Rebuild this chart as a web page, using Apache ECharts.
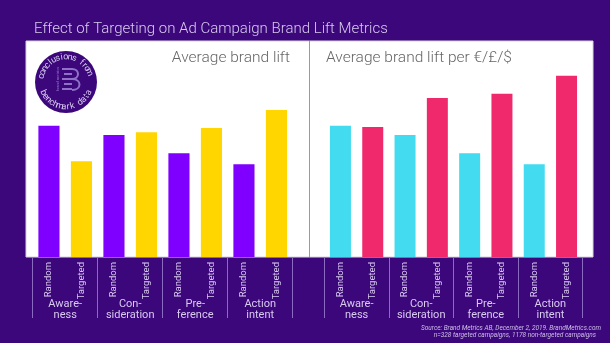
<!DOCTYPE html>
<html>
<head>
<meta charset="utf-8">
<script src="https://cdn.jsdelivr.net/npm/echarts@6/dist/echarts.min.js"></script>
<style>
  html, body { margin: 0; padding: 0; background: #3d077c; }
  #chart { width: 610px; height: 343px; }
</style>
</head>
<body>
<div id="chart"></div>
<script>
// Campaign groups and the two bars inside each group
const groups = ['Aware-\nness', 'Con-\nsideration', 'Pre-\nference', 'Action\nintent'];
const barKinds = ['Random', 'Targeted'];

// Brand lift index (Random awareness = 100)
const randomLift = [100, 93, 79, 70.6];
const targetedLift = [73, 95, 98.2, 112];

// Brand lift per €/£/$ index (Random awareness = 100)
const randomPerSpend = [100, 93, 79, 70.6];
const targetedPerSpend = [99, 121, 124.4, 138];

const panelTitles = ['Average brand lift', 'Average brand lift per €/£/$'];
const chartTitle = 'Effect of Targeting on Ad Campaign Brand Lift Metrics';
const sourceLines = [
  'Source: Brand Metrics AB, December 2, 2019. BrandMetrics.com',
  'n=328 targeted campaigns, 1178 non-targeted campaigns'
];

const BG = '#3d077c';
const LABEL = '#d8cbee';
const TICK = '#8a6bc0';
const FONT = 'Roboto, "Noto Sans", sans-serif';

// Interleave Random / Targeted values into one row of bars
function interleave(a, b) {
  const out = [];
  for (let i = 0; i < a.length; i++) { out.push(a[i], b[i]); }
  return out;
}
const barCats = [];
groups.forEach((g, i) => barKinds.forEach(k => barCats.push(k + '|' + i)));

function barData(values, cRandom, cTargeted) {
  return values.map((v, i) => ({ value: v, itemStyle: { color: i % 2 === 0 ? cRandom : cTargeted } }));
}

// Circular badge text: characters placed along an arc
function arcText(str, cx, cy, r, fromDeg, toDeg, bottom) {
  const els = [];
  const n = str.length;
  for (let i = 0; i < n; i++) {
    const deg = fromDeg + (toDeg - fromDeg) * (i + 0.5) / n;
    const a = deg * Math.PI / 180;
    const x = cx + r * Math.cos(a);
    const y = cy - r * Math.sin(a);
    const rot = bottom ? (a - 1.5 * Math.PI) : (a - 0.5 * Math.PI);
    els.push({
      type: 'text', x: x, y: y, rotation: rot, z: 20,
      style: { text: str[i], fill: '#d6c9ee', font: '9px ' + FONT, align: 'center', verticalAlign: 'middle' }
    });
  }
  return els;
}

const cx = 66, cy = 82, R = 31;
const LOGO = '#8f72c8';
const logoBars = [[62, 69], [64, 74], [62, 79], [64, 84], [62, 89]].map(p => ({
  type: 'line', z: 20,
  shape: { x1: p[0], y1: p[1], x2: 72, y2: p[1] },
  style: { stroke: LOGO, lineWidth: 2 }
}));
const badge = [
  { type: 'circle', shape: { cx: cx, cy: cy, r: R }, style: { fill: BG }, z: 15 },
  ...arcText('conclusions from', cx, cy, R - 6, 172, 18, false),
  ...arcText('benchmark data', cx, cy, R - 6, 200, 340, true),
  ...logoBars,
  {
    type: 'bezierCurve', z: 20,
    shape: { x1: 72, y1: 69, cpx1: 80, cpy1: 69, cpx2: 80, cpy2: 79, x2: 72, y2: 79 },
    style: { stroke: LOGO, lineWidth: 2, fill: null }
  },
  {
    type: 'bezierCurve', z: 20,
    shape: { x1: 72, y1: 79, cpx1: 82, cpy1: 79, cpx2: 82, cpy2: 90, x2: 72, y2: 90 },
    style: { stroke: LOGO, lineWidth: 2, fill: null }
  },
  {
    type: 'text', x: 58, y: 79, rotation: Math.PI / 2, z: 20,
    style: { text: 'brand metrics', fill: LOGO, font: '4px ' + FONT, align: 'center', verticalAlign: 'middle' }
  }
];

const chart = echarts.init(document.getElementById('chart'));

function catAxis(gridIndex) {
  return {
    type: 'category', gridIndex: gridIndex, data: barCats, position: 'bottom',
    axisLine: { show: false }, axisTick: { show: false },
    axisLabel: {
      rotate: 90, margin: 5, color: LABEL, fontSize: 9.5, fontFamily: FONT, interval: 0,
      formatter: v => v.split('|')[0]
    }
  };
}
function groupAxis(gridIndex) {
  return {
    type: 'category', gridIndex: gridIndex, data: groups, position: 'bottom',
    axisLine: { show: false },
    axisTick: { show: true, length: 61, lineStyle: { color: TICK, width: 1 } },
    axisLabel: { margin: 42, color: LABEL, fontSize: 11, lineHeight: 11, fontFamily: FONT, interval: 0 }
  };
}
function valAxis(gridIndex) {
  return { type: 'value', gridIndex: gridIndex, min: 0, max: 164.5, show: false };
}

chart.setOption({
  backgroundColor: BG,
  animation: false,
  title: {
    text: chartTitle, left: 29, top: 17,
    textStyle: { color: '#d8cbee', fontSize: 15, fontWeight: 300, fontFamily: FONT }
  },
  graphic: [
    { type: 'rect', shape: { x: 26, y: 41, width: 567, height: 216 }, style: { fill: '#ffffff', stroke: '#d8d4e0', lineWidth: 1 }, z: -10 },
    { type: 'line', shape: { x1: 309.5, y1: 41, x2: 309.5, y2: 257 }, style: { stroke: '#9a9a9a', lineWidth: 1 }, z: 5 },
    { type: 'text', x: 290, y: 58, z: 10, style: { text: panelTitles[0], fill: '#666666', font: '300 15.5px ' + FONT, align: 'right', verticalAlign: 'middle' } },
    { type: 'text', x: 326, y: 58, z: 10, style: { text: panelTitles[1], fill: '#666666', font: '300 15.5px ' + FONT, align: 'left', verticalAlign: 'middle' } },
    { type: 'text', x: 601, y: 328, z: 10, style: { text: sourceLines[0], fill: '#cbbde6', font: 'italic 6.5px ' + FONT, align: 'right', verticalAlign: 'middle' } },
    { type: 'text', x: 596, y: 335, z: 10, style: { text: sourceLines[1], fill: '#cbbde6', font: 'italic 6.5px ' + FONT, align: 'right', verticalAlign: 'middle' } },
    ...badge
  ],
  grid: [
    { left: 32.7, top: 41, width: 260, height: 216 },
    { left: 324.3, top: 41, width: 258.4, height: 216 }
  ],
  xAxis: [catAxis(0), groupAxis(0), catAxis(1), groupAxis(1)],
  yAxis: [valAxis(0), valAxis(1)],
  series: [
    {
      type: 'bar', xAxisIndex: 0, yAxisIndex: 0, barWidth: '65%',
      data: barData(interleave(randomLift, targetedLift), '#7f00ff', '#ffd600')
    },
    {
      type: 'bar', xAxisIndex: 2, yAxisIndex: 1, barWidth: '65%',
      data: barData(interleave(randomPerSpend, targetedPerSpend), '#42dbf0', '#f0296c')
    }
  ]
});
</script>
</body>
</html>
